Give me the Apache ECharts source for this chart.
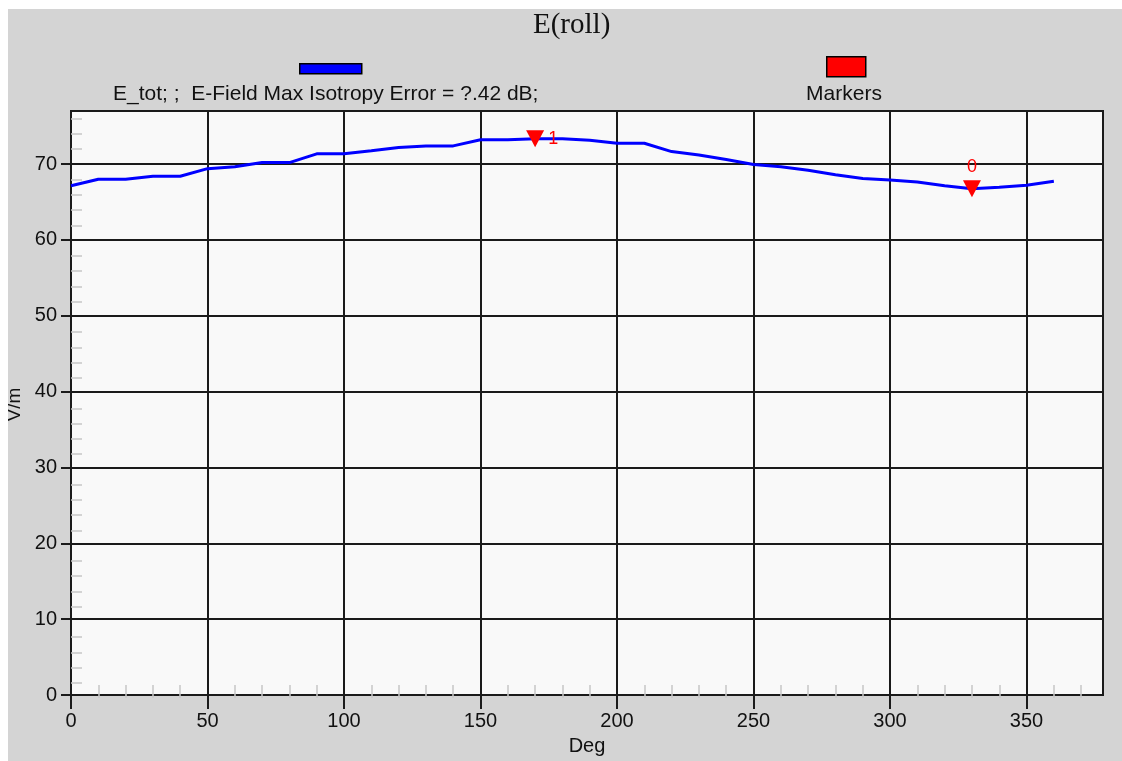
<!DOCTYPE html>
<html>
<head>
<meta charset="utf-8">
<title>E(roll)</title>
<script src="https://cdn.jsdelivr.net/npm/echarts@6/dist/echarts.min.js"></script>
<style>
  html, body { margin: 0; padding: 0; background: #ffffff; }
  #chart { position: absolute; left: 8px; top: 9px; width: 1114px; height: 752px; }
</style>
</head>
<body>
<div id="chart"></div>
<script>
// Roll angle in degrees
const degrees = [0, 10, 20, 30, 40, 50, 60, 70, 80, 90, 100, 110, 120, 130, 140, 150, 160, 170, 180,
                 190, 200, 210, 220, 230, 240, 250, 260, 270, 280, 290, 300, 310, 320, 330, 340, 350, 360];
// Total E-field strength, V/m
const eTot = [67.15, 68.0, 68.0, 68.4, 68.4, 69.4, 69.65, 70.2, 70.2, 71.35, 71.35, 71.75, 72.2, 72.4, 72.4,
              73.2, 73.2, 73.35, 73.35, 73.15, 72.75, 72.75, 71.65, 71.2, 70.6, 69.95, 69.65, 69.2, 68.6,
              68.1, 67.9, 67.65, 67.15, 66.75, 66.95, 67.2, 67.75];
// Max / min markers
const markerNames = ['1', '0'];
const markerDegrees = [170, 330];
const markerLabelSides = ['right', 'top'];

const seriesName = 'E_tot';
const seriesLegendText = 'E_tot; ;  E-Field Max Isotropy Error = ?.42 dB;';
const markerSeriesName = 'Markers';
const titleText = 'E(roll)';
const xName = 'Deg';
const yName = 'V/m';

const X_MIN = 0, X_MAX = 378, X_STEP = 50;
const Y_MIN = 0, Y_MAX = 77, Y_STEP = 10;

const SANS = '"Liberation Sans", Arial, sans-serif';
const SERIF = '"Liberation Serif", "Times New Roman", serif';
const INK = '#111111';
const MARKER_RED = '#ff0000';

const chart = echarts.init(document.getElementById('chart'));

const gridRect = { left: 63, top: 102, width: 1032, height: 587 };

const lineData = degrees.map((d, i) => [d, eTot[i]]);
const markerData = markerDegrees.map((d, k) => ({
  name: markerNames[k],
  value: [d, eTot[degrees.indexOf(d)]],
  label: { position: markerLabelSides[k] }
}));

// Minor ticks live on a twin grid so they can point inward while major ticks point outward
function minorAxis(min, max, step, len) {
  return {
    type: 'value', gridIndex: 1, min: min, max: max, interval: step,
    axisLine: { show: false },
    axisTick: { show: false, inside: true },
    minorTick: { show: true, splitNumber: 5, length: len, lineStyle: { color: '#c6c6c6', width: 1.5 } },
    axisLabel: { show: false },
    splitLine: { show: false },
    minorSplitLine: { show: false }
  };
}

const option = {
  animation: false,
  backgroundColor: '#d4d4d4',
  title: {
    text: titleText,
    left: 525, top: 2, padding: 0,
    textStyle: { fontFamily: SERIF, fontSize: 29, fontWeight: 'normal', color: INK }
  },
  legend: [
    {
      data: [seriesName], left: 291, top: 54, padding: 0,
      icon: 'rect', itemWidth: 62, itemHeight: 10, selectedMode: false,
      formatter: () => '',
      itemStyle: { borderColor: '#000', borderWidth: 1.5, opacity: 1 }
    },
    {
      data: [markerSeriesName], left: 818, top: 47, padding: 0,
      icon: 'rect', itemWidth: 39, itemHeight: 20, selectedMode: false,
      formatter: () => '',
      itemStyle: { color: MARKER_RED, borderColor: '#000', borderWidth: 1.5, opacity: 1 }
    }
  ],
  graphic: [
    {
      type: 'text', x: 105, y: 85.5, silent: true,
      style: { text: seriesLegendText, fontFamily: SANS, fontSize: 21, fill: INK, align: 'left', verticalAlign: 'middle' }
    },
    {
      type: 'text', x: 836, y: 85.5, silent: true,
      style: { text: markerSeriesName, fontFamily: SANS, fontSize: 21, fill: INK, align: 'center', verticalAlign: 'middle' }
    },
    {
      type: 'text', x: 7, y: gridRect.top + gridRect.height / 2, rotation: Math.PI / 2, silent: true,
      style: { text: yName, fontFamily: SANS, fontSize: 19, fill: INK, align: 'center', verticalAlign: 'middle' }
    }
  ],
  grid: [
    Object.assign({ show: true, backgroundColor: '#f9f9f9', borderColor: '#1a1a1a', borderWidth: 2 }, gridRect),
    Object.assign({ show: false }, gridRect)
  ],
  xAxis: [
    {
      type: 'value', gridIndex: 0, min: X_MIN, max: X_MAX, interval: X_STEP,
      name: xName, nameLocation: 'middle', nameGap: 41,
      nameTextStyle: { fontFamily: SANS, fontSize: 20, color: INK },
      axisLine: { show: true, lineStyle: { color: '#1a1a1a', width: 2 } },
      axisTick: { show: true, length: 14, lineStyle: { color: '#1a1a1a', width: 2 } },
      axisLabel: { margin: 16, fontFamily: SANS, fontSize: 20, color: INK, showMaxLabel: false },
      splitLine: { show: true, lineStyle: { color: '#1a1a1a', width: 2 } }
    },
    minorAxis(X_MIN, X_MAX, X_STEP, 13)
  ],
  yAxis: [
    {
      type: 'value', gridIndex: 0, min: Y_MIN, max: Y_MAX, interval: Y_STEP,
      axisLine: { show: true, lineStyle: { color: '#1a1a1a', width: 2 } },
      axisTick: { show: true, length: 10, lineStyle: { color: '#1a1a1a', width: 2 } },
      axisLabel: { margin: 14, fontFamily: SANS, fontSize: 20, color: INK, showMaxLabel: false },
      splitLine: { show: true, lineStyle: { color: '#1a1a1a', width: 2 } }
    },
    minorAxis(Y_MIN, Y_MAX, Y_STEP, 11)
  ],
  series: [
    {
      name: seriesName, type: 'line', xAxisIndex: 0, yAxisIndex: 0,
      data: lineData, showSymbol: false, z: 3,
      lineStyle: { color: '#0000ff', width: 3 },
      itemStyle: { color: '#0000ff' }
    },
    {
      name: markerSeriesName, type: 'scatter', xAxisIndex: 0, yAxisIndex: 0,
      data: markerData, z: 4,
      symbol: 'triangle', symbolRotate: 180, symbolSize: [18, 17],
      itemStyle: { color: MARKER_RED, opacity: 1 },
      label: { show: true, formatter: '{b}', distance: 4, fontFamily: SANS, fontSize: 18, color: MARKER_RED }
    }
  ]
};

chart.setOption(option);
</script>
</body>
</html>
